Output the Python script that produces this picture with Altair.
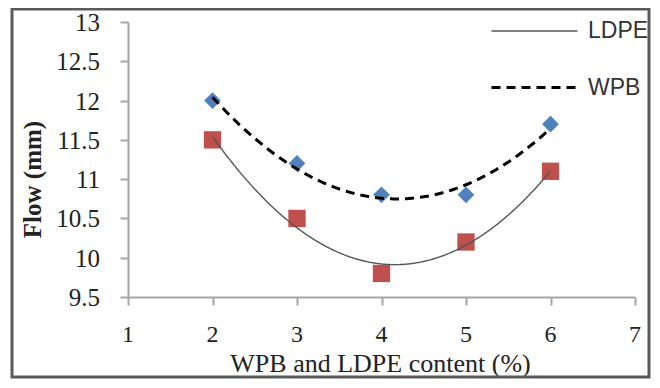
import altair as alt
import pandas as pd

content = [2, 3, 4, 5, 6]
ldpe_flow = [11.5, 10.5, 9.8, 10.2, 11.1]
wpb_flow = [12.0, 11.2, 10.8, 10.8, 11.7]
series_names = ["LDPE", "WPB"]
x_ticks = [1, 2, 3, 4, 5, 6, 7]
y_ticks = [9.5, 10, 10.5, 11, 11.5, 12, 12.5, 13]
y_tick_text = ["9.5", "10", "10.5", "11", "11.5", "12", "12.5", "13"]

df = pd.DataFrame({
    "content": content + content,
    "flow": ldpe_flow + wpb_flow,
    "series": [series_names[0]] * len(content) + [series_names[1]] * len(content),
})
xt = pd.DataFrame({"content": x_ticks, "txt": [str(v) for v in x_ticks]})
yt = pd.DataFrame({"flow": y_ticks, "txt": y_tick_text})

SERIF = "Liberation Serif"
xs = alt.Scale(domain=[1, 7], nice=False, zero=False)
ys = alt.Scale(domain=[9.5, 13], nice=False, zero=False)

x_enc = alt.X(
    "content:Q", scale=xs,
    axis=alt.Axis(
        values=x_ticks, labels=False, title="WPB and LDPE content (%)",
        titleFont=SERIF, titleFontSize=26, titleFontWeight="normal",
        titleX=252, titleY=74, titleBaseline="alphabetic", titleColor="#222222",
    ),
)
y_enc = alt.Y(
    "flow:Q", scale=ys,
    axis=alt.Axis(
        values=y_ticks, labels=False, title="Flow (mm)",
        titleFont=SERIF, titleFontSize=25, titleFontWeight="bold",
        titleAngle=270, titleX=-96, titleY=157, titleBaseline="middle",
        titleAlign="center", titleColor="#222222",
    ),
)

frame = alt.Chart(pd.DataFrame({"k": [0]})).mark_rect(
    fillOpacity=0, stroke="#5a5a5a", strokeWidth=3
).encode(
    x=alt.value(-116), x2=alt.value(521), y=alt.value(-13), y2=alt.value(355)
)

ldpe_pts = alt.Chart(df).transform_filter(alt.datum.series == "LDPE").mark_point(
    shape="square", filled=True, size=300, color="#C0504D", opacity=1
).encode(x=x_enc, y=y_enc)

wpb_pts = alt.Chart(df).transform_filter(alt.datum.series == "WPB").mark_point(
    shape="diamond", filled=True, size=280, color="#4F81BD", opacity=1
).encode(x=x_enc, y=y_enc)

leg = alt.Legend(
    title=None, orient="none", legendX=362, legendY=-35,
    symbolType="stroke", symbolSize=7396,
    labelFont="Liberation Sans", labelFontSize=23, labelColor="#333333",
    labelOffset=9, rowPadding=-26, padding=0, labelBaseline="middle",
)

fits = alt.Chart(df).transform_regression(
    "content", "flow", method="poly", order=2, groupby=["series"]
).mark_line().encode(
    x=x_enc,
    y=y_enc,
    stroke=alt.Stroke("series:N", scale=alt.Scale(domain=series_names, range=["#555555", "#000000"]), legend=leg),
    strokeDash=alt.StrokeDash("series:N", scale=alt.Scale(domain=series_names, range=[[1, 0], [9, 6]]), legend=leg),
    strokeWidth=alt.StrokeWidth("series:N", scale=alt.Scale(domain=series_names, range=[1.4, 3]), legend=leg),
)

x_labels = alt.Chart(xt).mark_text(
    font=SERIF, fontSize=24, color="#222222", align="center", baseline="alphabetic"
).encode(x=x_enc, y=alt.value(320), text="txt:N")

y_labels = alt.Chart(yt).mark_text(
    font=SERIF, fontSize=25, color="#222222", align="right", baseline="middle", dy=1
).encode(x=alt.value(-28), y=y_enc, text="txt:N")

chart = alt.layer(frame, ldpe_pts, wpb_pts, fits, x_labels, y_labels).properties(
    width=507, height=275,
    autosize=alt.AutoSizeParams(type="none"),
    padding={"left": 120, "top": 14, "right": 16, "bottom": 83},
    background="white",
).configure_view(stroke=None).configure_axis(
    grid=False, domainColor="#a6a6a6", domainWidth=2, tickColor="#a6a6a6",
    tickWidth=2, tickSize=8,
)

chart.save("out.html", embed_options={"renderer": "svg", "actions": False})
